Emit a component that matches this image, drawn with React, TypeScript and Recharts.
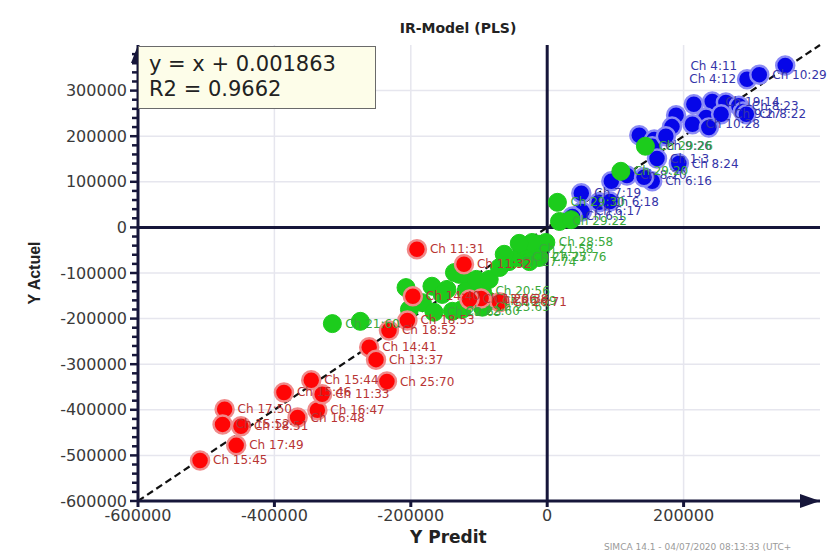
import React from 'react';
import { ScatterChart, Scatter, XAxis, YAxis, ZAxis, ReferenceLine, ReferenceDot, LabelList } from 'recharts';

const xTicks = [-600000, -400000, -200000, 0, 200000];
const yTicks = [-600000, -500000, -400000, -300000, -200000, -100000, 0, 100000, 200000, 300000];
const xGrid = [-400000, -200000, 200000];
const yGrid = yTicks.filter((v) => v !== 0 && v !== -600000);

const redNames = ['Ch 15:45', 'Ch 17:49', 'Ch 17:50', 'Ch 15:52', 'Ch 18:51', 'Ch 16:48', 'Ch 16:47', 'Ch 15:46', 'Ch 11:33', 'Ch 15:44', 'Ch 25:70', 'Ch 14:41', 'Ch 13:37', 'Ch 18:52', 'Ch 18:53', 'Ch 14:40', 'Ch 11:31', 'Ch 11:32', 'Ch 26:38', 'Ch 26:71', 'Ch 13:36'];
const redX = [-509000, -456000, -473000, -476000, -449000, -366000, -337000, -386000, -330000, -346000, -235000, -261000, -251000, -232000, -205000, -197000, -191000, -122000, -97000, -70000, -114000];
const redY = [-511000, -478000, -399000, -432000, -436000, -417000, -401000, -362000, -366000, -335000, -338000, -263000, -290000, -226000, -204000, -151000, -48000, -81000, -156000, -164000, -158000];

// null = point drawn without a visible label (hidden in the crowd)
const greenNames = ['Ch 21:60', null, null, null, null, 'Ch 22:63', 'Ch 22:60', null, null, null, 'Ch 20:56', null, null, null, null, null, null, 'Ch 27:74', 'Ch 27:75', 'Ch 21:58', null, 'Ch 28:58', null, null, 'Ch 27:76', 'Ch 23:65', null, 'Ch 26:69', null, null, null, 'Ch 29:30', 'Ch 29:20', 'Ch 29:22', null, 'Ch 29:26'];
const greenX = [-315000, -274000, -207000, -169000, -183000, -166000, -139000, -129000, -136000, -114000, -95000, -119000, -147000, -154000, -104000, -85000, -70000, -56000, -41000, -31000, -12000, -2000, -22000, -41000, -12000, -95000, -125000, -85000, -202000, -63000, -26000, 15000, 108000, 18000, 35000, 144000];
const greenY = [-211000, -206000, -132000, -129000, -165000, -186000, -184000, -103000, -99000, -118000, -140000, -140000, -136000, -147000, -114000, -114000, -88000, -75000, -66000, -48000, -37000, -33000, -33000, -35000, -66000, -175000, -180000, -162000, -180000, -59000, -75000, 55000, 123000, 13000, 17000, 178000];

const blueNames = ['Ch 4:11', 'Ch 4:12', 'Ch 10:29', null, 'Ch 19:14', null, 'Ch 8:23', null, 'Ch 8:22', null, null, 'Ch 9:27', null, 'Ch 10:28', null, null, null, 'Ch 9:26', null, 'Ch 1:3', 'Ch 8:24', null, 'Ch 8:20', 'Ch 6:16', null, 'Ch 7:19', 'Ch 6:18', 'Ch 6:17', 'Ch 6:1', null];
const blueX = [349000, 293000, 311000, 215000, 242000, 262000, 281000, 287000, 292000, 189000, 233000, 255000, 183000, 213000, 237000, 135000, 157000, 154000, 174000, 161000, 193000, 94000, 117000, 154000, 142000, 50000, 76000, 51000, 37000, 92000];
const blueY = [355000, 325000, 335000, 270000, 276000, 274000, 267000, 254000, 248000, 246000, 241000, 248000, 221000, 226000, 219000, 202000, 193000, 178000, 200000, 151000, 140000, 101000, 114000, 101000, 110000, 75000, 55000, 35000, 24000, 57000];

// labels that SIMCA put on the left of their point (near the right edge)
const leftLabelGap: Record<string, number> = { 'Ch 4:11': 48, 'Ch 4:12': 11 };

const toPoints = (names: (string | null)[], xs: number[], ys: number[]) =>
  names.map((name, i) => ({ name, x: xs[i], y: ys[i] }));

const redData = toPoints(redNames, redX, redY);
const greenData = toPoints(greenNames, greenX, greenY);
const blueData = toPoints(blueNames, blueX, blueY);

// minor ticks on the Y axis every 20000
const yMinor: number[] = [];
for (let v = -600000; v <= 380000; v += 20000) yMinor.push(v);

const AXIS = '#16163a';

const YTick = (props: any) => {
  const { x, y, payload } = props;
  const v = payload.value as number;
  const major = v % 100000 === 0;
  return (
    <g>
      <line x1={x - (major ? 8 : 6)} x2={x} y1={y} y2={y} stroke={AXIS} strokeWidth={2.5} />
      {major && (
        <text x={x - 11} y={y} dy={5.5} textAnchor="end" fontSize={16} fill="#3a3a3a" fontFamily="DejaVu Sans">
          {v}
        </text>
      )}
    </g>
  );
};

const dot = (fill: string, ring: string, hasRing: boolean) => (p: any) => (
  <circle cx={p.cx} cy={p.cy} r={9} fill={fill} stroke={hasRing ? ring : fill} strokeWidth={hasRing ? 2.5 : 1} />
);

const pointLabel = (color: string) => (p: any) => {
  const { x, y, width, height, value } = p;
  if (value == null) return null;
  const cx = x + width / 2;
  const cy = y + height / 2;
  const gap = leftLabelGap[value];
  const left = gap !== undefined;
  return (
    <text
      x={left ? cx - gap : cx + 13}
      y={cy}
      dy={4}
      textAnchor={left ? 'end' : 'start'}
      fontSize={12}
      fill={color}
      fontFamily="DejaVu Sans"
    >
      {value}
    </text>
  );
};

const upArrow = (p: any) => (
  <path d={`M${p.cx},${p.cy} L${p.cx - 7},${p.cy + 18} L${p.cx + 7},${p.cy + 18} Z`} fill={AXIS} />
);
const rightArrow = (p: any) => (
  <path d={`M${p.cx},${p.cy} L${p.cx - 20},${p.cy - 7} L${p.cx - 20},${p.cy + 7} Z`} fill={AXIS} />
);

export default function App() {
  return (
    <div style={{ position: 'absolute', left: 0, top: 0, width: 834, height: 553, background: '#fff', fontFamily: 'DejaVu Sans' }}>
      <div style={{ position: 'absolute', left: 0, width: 916, top: 20, textAlign: 'center', fontWeight: 'bold', fontSize: 14, color: '#222' }}>
        IR-Model (PLS)
      </div>
      <ScatterChart width={834} height={553} margin={{ top: 45, right: 14, bottom: 22, left: 0 }}>
        <XAxis
          type="number"
          dataKey="x"
          domain={[-600000, 400000]}
          ticks={xTicks}
          allowDataOverflow
          height={30}
          interval={0}
          tickSize={6}
          tickMargin={3}
          tickLine={{ stroke: AXIS, strokeWidth: 3 }}
          axisLine={{ stroke: AXIS, strokeWidth: 3 }}
          tick={{ fontSize: 16, fill: '#3a3a3a', fontFamily: 'DejaVu Sans' }}
        />
        <YAxis
          type="number"
          dataKey="y"
          domain={[-600000, 400000]}
          ticks={yMinor}
          allowDataOverflow
          width={138}
          interval={0}
          tickSize={0}
          tickMargin={0}
          tickLine={false}
          axisLine={{ stroke: AXIS, strokeWidth: 3 }}
          tick={<YTick />}
        />
        <ZAxis range={[260, 260]} />
        {yGrid.map((v) => (
          <ReferenceLine key={'gy' + v} y={v} stroke="#e6e6ee" strokeWidth={1.5} />
        ))}
        {xGrid.map((v) => (
          <ReferenceLine key={'gx' + v} x={v} stroke="#e6e6ee" strokeWidth={1.5} />
        ))}
        <Scatter data={blueData} shape={dot('#0606e8', '#8a8af5', true)} isAnimationActive={false}>
          <LabelList dataKey="name" content={pointLabel('#3535a8')} />
        </Scatter>
        <Scatter data={greenData} shape={dot('#1ccc1c', '#1ccc1c', false)} isAnimationActive={false}>
          <LabelList dataKey="name" content={pointLabel('#3aa83a')} />
        </Scatter>
        <Scatter data={redData} shape={dot('#ff0505', '#f08a8a', true)} isAnimationActive={false}>
          <LabelList dataKey="name" content={pointLabel('#b83434')} />
        </Scatter>
        <ReferenceLine x={0} stroke={AXIS} strokeWidth={3} />
        <ReferenceLine y={0} stroke={AXIS} strokeWidth={3} />
        <ReferenceLine
          segment={[{ x: -600000, y: -600000 }, { x: 400000, y: 400000 }]}
          stroke="#111"
          strokeWidth={2.2}
          strokeDasharray="7 4"
          ifOverflow="visible"
        />
        <ReferenceDot x={-600000} y={400000} r={0} ifOverflow="visible" shape={upArrow} />
        <ReferenceDot x={400000} y={-600000} r={0} ifOverflow="visible" shape={rightArrow} />
      </ScatterChart>
      <div
        style={{
          position: 'absolute', left: 138, top: 46, width: 238, height: 63,
          background: '#fdfde9', border: '1.5px solid #6a6a6a', boxSizing: 'border-box',
          fontSize: 21, color: '#222', lineHeight: '25px', paddingLeft: 10, paddingTop: 5,
        }}
      >
        <div>y = x + 0.001863</div>
        <div>R2 = 0.9662</div>
      </div>
      <div
        style={{
          position: 'absolute', left: 35, top: 273, transform: 'translate(-50%, -50%) rotate(-90deg)',
          fontFamily: 'Liberation Sans', fontWeight: 'bold', fontSize: 16, color: '#222', whiteSpace: 'nowrap',
        }}
      >
        Y Actuel
      </div>
      <div style={{ position: 'absolute', left: 410, top: 527, fontWeight: 'bold', fontSize: 17, color: '#222' }}>Y Predit</div>
      <div style={{ position: 'absolute', left: 604, top: 542, fontSize: 9, color: '#9a9a9a', whiteSpace: 'nowrap' }}>
        SIMCA 14.1 - 04/07/2020 08:13:33 (UTC+
      </div>
    </div>
  );
}
